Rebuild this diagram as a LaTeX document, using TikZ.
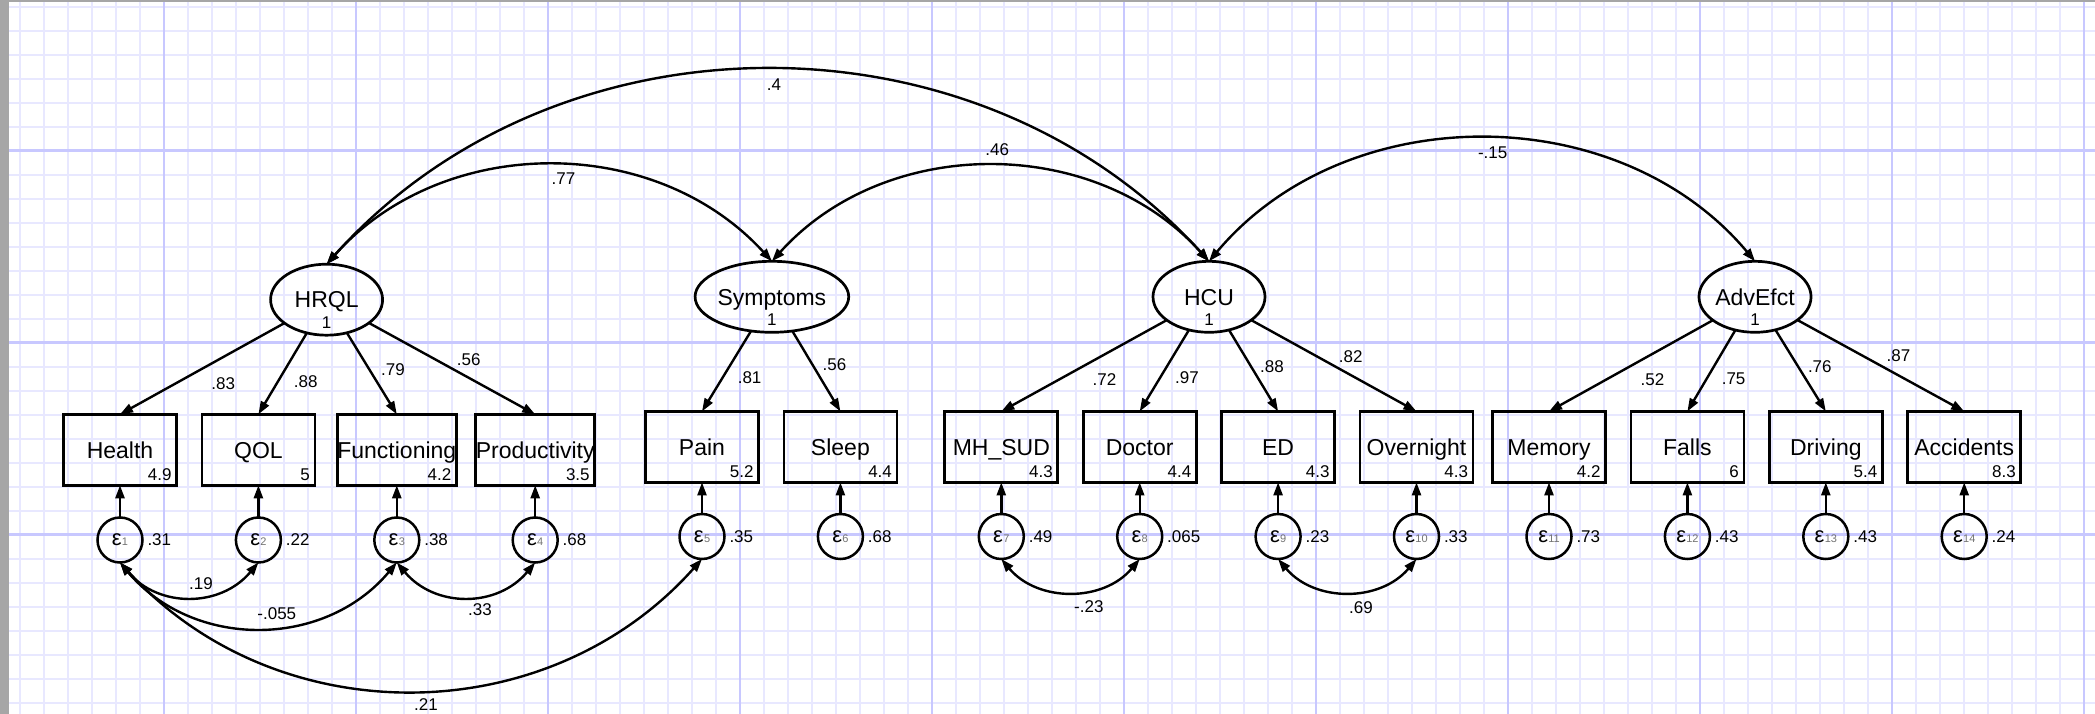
\documentclass[tikz,border=0pt]{standalone}
\usepackage{fontspec}
\setmainfont{Liberation Sans}
\usetikzlibrary{shapes.geometric,arrows.meta}
\definecolor{gminor}{HTML}{E8E8FF}
\definecolor{gmajor}{HTML}{C8C8FF}
\definecolor{gborder}{HTML}{A6A6A6}
\newcommand{\epsn}[1]{ε\kern0.3pt{\fontsize{11}{11}\selectfont\color{black!55}#1}}
\begin{document}
\begin{tikzpicture}[x=1pt,y=-1pt,
  every node/.style={inner sep=0pt, outer sep=0pt},
  latent/.style={ellipse, draw, line width=2.7pt, minimum width=112pt, minimum height=71pt, font=\fontsize{23}{23}\selectfont, text height=16.5pt, text depth=0pt},
  obs/.style={rectangle, draw, line width=2.7pt, minimum width=113pt, minimum height=71pt, font=\fontsize{23}{23}\selectfont, text height=16.5pt, text depth=0pt},
  errc/.style={circle, draw, line width=2.5pt, minimum size=45pt, font=\fontsize{22}{22}\selectfont},
  numlbl/.style={font=\fontsize{17}{17}\selectfont},
  ldg/.style={line width=2.4pt, -{Triangle[length=13pt,width=9pt]}},
  cov/.style={line width=2.4pt, {Triangle[length=13pt,width=9pt]}-{Triangle[length=13pt,width=9pt]}},
]
\useasboundingbox (0,0) rectangle (2095,714);
% grid
\foreach \x in {20,44,...,2090} \draw[gminor, line width=2pt] (\x,0) -- (\x,714);
\foreach \y in {6.7,30.7,...,712} \draw[gminor, line width=2pt] (0,\y) -- (2095,\y);
\foreach \x in {164,356,...,2090} \draw[gmajor, line width=2.5pt] (\x,0) -- (\x,714);
\foreach \y in {150.7,342.7,534.7} \draw[gmajor, line width=2.5pt] (0,\y) -- (2095,\y);
\fill[gborder] (0,0) rectangle (8.7,714);
\fill[gborder] (0,0) rectangle (2095,2);

% latent variables
\node[latent] (hrql) at (326.6,299.7) {HRQL};
\node[numlbl] (hrqlv) at (326.6,323) {1};
\node[latent] (sym) at (771.9,296.8) {Symptoms};
\node[numlbl] (symv) at (771.9,320) {1};
\node[latent] (hcu) at (1209,296.8) {HCU};
\node[numlbl] (hcuv) at (1209,320) {1};
\node[latent] (adv) at (1755,296.8) {AdvEfct};
\node[numlbl] (advv) at (1755,320) {1};

% observed variables
\node[obs] (health) at (120,449.8) {Health};
\node[obs] (qol) at (258.4,449.8) {QOL};
\node[obs] (func) at (396.8,449.8) {Functioning};
\node[obs] (prod) at (535.2,449.8) {Productivity};
\node[obs] (pain) at (702,446.9) {Pain};
\node[obs] (sleep) at (840.4,446.9) {Sleep};
\node[obs] (mhsud) at (1001.3,446.9) {MH\_SUD};
\node[obs] (doctor) at (1139.7,446.9) {Doctor};
\node[obs] (ed) at (1278.1,446.9) {ED};
\node[obs] (overn) at (1416.5,446.9) {Overnight};
\node[obs] (memory) at (1549,446.9) {Memory};
\node[obs] (falls) at (1687.4,446.9) {Falls};
\node[obs] (driving) at (1825.8,446.9) {Driving};
\node[obs] (accid) at (1964.2,446.9) {Accidents};

% intercepts in boxes
\foreach \b/\v in {health/4.9,qol/5,func/4.2,prod/3.5,pain/5.2,sleep/4.4,mhsud/4.3,doctor/4.4,ed/4.3,overn/4.3,memory/4.2,falls/6,driving/5.4,accid/8.3}
  \node[numlbl, anchor=base east] (\b v) at ([xshift=-5pt,yshift=5pt]\b.south east) {\v};

% error terms
\node[errc] (e1) at (120,540) {\epsn{1}};
\node[errc] (e2) at (258.4,540) {\epsn{2}};
\node[errc] (e3) at (396.8,540) {\epsn{3}};
\node[errc] (e4) at (535.2,540) {\epsn{4}};
\node[errc] (e5) at (702,536.5) {\epsn{5}};
\node[errc] (e6) at (840.4,536.5) {\epsn{6}};
\node[errc] (e7) at (1001.3,536.5) {\epsn{7}};
\node[errc] (e8) at (1139.7,536.5) {\epsn{8}};
\node[errc] (e9) at (1278.1,536.5) {\epsn{9}};
\node[errc] (e10) at (1416.5,536.5) {\epsn{10}};
\node[errc] (e11) at (1549,536.5) {\epsn{11}};
\node[errc] (e12) at (1687.4,536.5) {\epsn{12}};
\node[errc] (e13) at (1825.8,536.5) {\epsn{13}};
\node[errc] (e14) at (1964.2,536.5) {\epsn{14}};

% error variances
\foreach \e/\v in {e1/.31,e2/.22,e3/.38,e4/.68,e5/.35,e6/.68,e7/.49,e8/.065,e9/.23,e10/.33,e11/.73,e12/.43,e13/.43,e14/.24}
  \node[numlbl, anchor=west] (\e v) at ([xshift=5pt]\e.east) {\v};

% error -> indicator
\foreach \e/\b in {e1/health,e2/qol,e3/func,e4/prod,e5/pain,e6/sleep,e7/mhsud,e8/doctor,e9/ed,e10/overn,e11/memory,e12/falls,e13/driving,e14/accid}
  \draw[ldg] (\e.north) -- (\b.south);

% loadings
\draw[ldg] (hrql) -- (health.north);
\draw[ldg] (hrql) -- (qol.north);
\draw[ldg] (hrql) -- (func.north);
\draw[ldg] (hrql) -- (prod.north);
\draw[ldg] (sym) -- (pain.north);
\draw[ldg] (sym) -- (sleep.north);
\draw[ldg] (hcu) -- (mhsud.north);
\draw[ldg] (hcu) -- (doctor.north);
\draw[ldg] (hcu) -- (ed.north);
\draw[ldg] (hcu) -- (overn.north);
\draw[ldg] (adv) -- (memory.north);
\draw[ldg] (adv) -- (falls.north);
\draw[ldg] (adv) -- (driving.north);
\draw[ldg] (adv) -- (accid.north);

% loading labels
\node[numlbl] (l1) at (223.2,383.3) {.83};
\node[numlbl] (l2) at (305.8,381.7) {.88};
\node[numlbl] (l3) at (392.9,370) {.79};
\node[numlbl] (l4) at (468.8,360) {.56};
\node[numlbl] (l5) at (749.6,377.7) {.81};
\node[numlbl] (l6) at (834.4,365) {.56};
\node[numlbl] (l7) at (1104.5,380) {.72};
\node[numlbl] (l8) at (1187,377.7) {.97};
\node[numlbl] (l9) at (1271.9,366.7) {.88};
\node[numlbl] (l10) at (1350.7,356.7) {.82};
\node[numlbl] (l11) at (1652.4,380) {.52};
\node[numlbl] (l12) at (1733.6,378.3) {.75};
\node[numlbl] (l13) at (1819.8,366.7) {.76};
\node[numlbl] (l14) at (1898.4,356) {.87};

% latent covariances
\draw[cov] (hrql.north) to[bend left=48] (sym.north);
\draw[cov] (hrql.north) to[bend left=48] (hcu.north);
\draw[cov] (sym.north) to[bend left=48] (hcu.north);
\draw[cov] (hcu.north) to[bend left=50] (adv.north);
\node[numlbl] (c1) at (563.4,178.3) {.77};
\node[numlbl] (c2) at (774,85) {.4};
\node[numlbl] (c3) at (997.3,150) {.46};
\node[numlbl] (c4) at (1492.7,152.7) {-.15};

% error covariances
\draw[cov] (e1.south) to[bend right=50, looseness=1.1] (e2.south);
\draw[cov] (e1.south) to[bend right=50, looseness=1.05] (e3.south);
\draw[cov] (e3.south) to[bend right=50, looseness=1.1] (e4.south);
\draw[cov] (e1.south) to[bend right=48, looseness=1.02] (e5.south);
\draw[cov] (e7.south) to[bend right=50, looseness=1.05] (e8.south);
\draw[cov] (e9.south) to[bend right=50, looseness=1.05] (e10.south);
\node[numlbl] (c5) at (200.9,583.3) {.19};
\node[numlbl] (c6) at (276.8,613.3) {-.055};
\node[numlbl] (c7) at (480,609.3) {.33};
\node[numlbl] (c8) at (426,705) {.21};
\node[numlbl] (c9) at (1088.8,606.7) {-.23};
\node[numlbl] (c10) at (1360.9,607.3) {.69};
\end{tikzpicture}
\end{document}
